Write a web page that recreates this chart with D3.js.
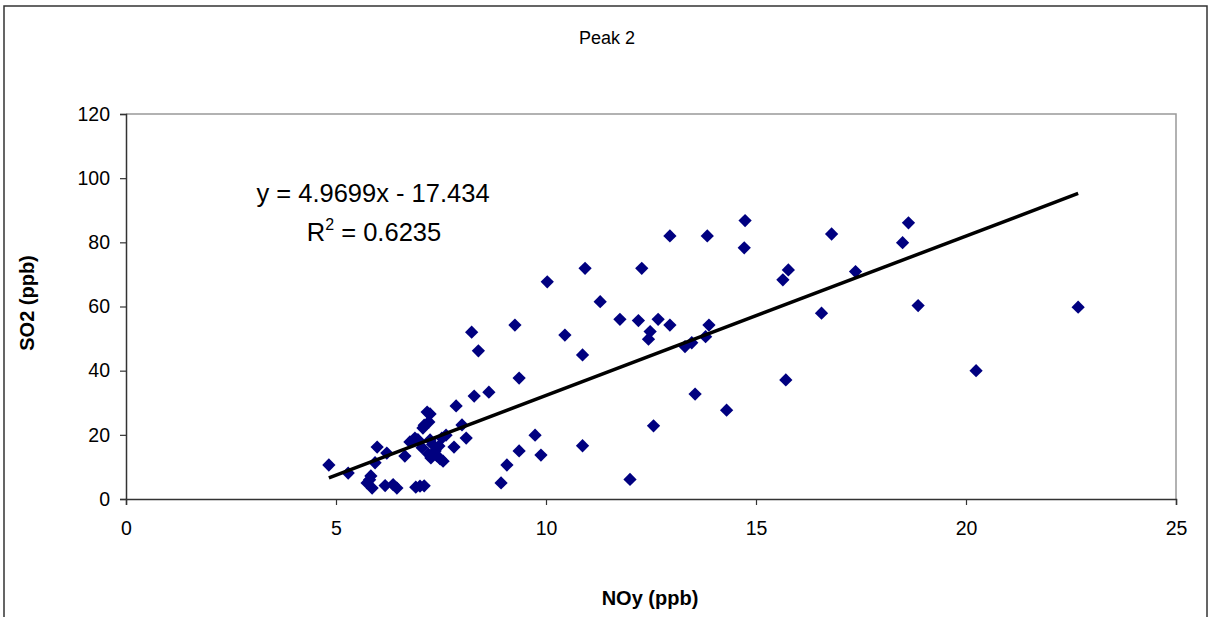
<!DOCTYPE html>
<html><head><meta charset="utf-8">
<script src="https://cdn.jsdelivr.net/npm/d3@7"></script>
<style>
html,body{margin:0;padding:0;background:#fff;}
svg{display:block;font-family:Arial,"Liberation Sans",sans-serif;}
</style></head>
<body><svg id="c" width="1210" height="617"></svg>
<script>
const noy = [4.83,5.29,5.83,5.74,5.86,5.80,5.98,6.21,5.93,6.17,6.36,6.45,6.64,6.76,6.88,6.90,7.10,7.00,7.07,7.17,7.24,7.21,7.10,6.95,7.05,7.24,7.26,7.20,7.36,7.40,7.48,7.55,7.45,7.30,7.62,7.52,7.81,7.86,8.00,8.10,8.29,8.64,8.23,8.39,9.36,8.93,9.07,9.36,9.74,9.88,9.26,10.03,10.93,10.45,11.29,10.87,11.76,12.20,12.28,12.67,12.95,12.48,12.44,12.95,13.84,14.74,14.72,13.31,13.47,13.80,13.88,15.64,15.77,15.71,13.55,14.30,12.56,10.87,12.00,16.80,18.63,18.49,17.37,16.56,18.86,22.67,20.24];
const so2 = [10.6,8.1,7.2,5.0,3.4,6.0,16.2,14.3,11.3,4.2,4.5,3.4,13.4,17.8,19.0,3.7,4.1,4.0,22.1,27.1,26.5,24.0,23.0,18.5,16.0,18.4,12.8,14.0,15.0,13.5,12.5,11.8,16.5,17.0,19.9,19.0,16.2,29.0,23.1,19.0,32.1,33.3,52.0,46.2,37.7,5.0,10.6,15.0,19.9,13.7,54.2,67.7,71.9,51.1,61.5,44.9,56.0,55.6,71.9,56.0,54.2,52.2,49.8,82.0,82.0,86.8,78.3,47.5,48.7,50.6,54.2,68.3,71.4,37.1,32.7,27.7,22.8,16.6,6.1,82.6,86.1,79.9,70.9,57.9,60.3,59.8,40.0];
const xTicks = [0,5,10,15,20,25];
const yTicks = [0,20,40,60,80,100,120];
const slope = 4.9699, intercept = -17.434;
const title = "Peak 2";
const xTitle = "NOy (ppb)";
const yTitle = "SO2 (ppb)";
const eqText = "y = 4.9699x - 17.434";
const r2Value = "0.6235";

const svg = d3.select("#c");
const L = 126, R = 1176, T = 114, B = 499;
const x = d3.scaleLinear().domain([0,25]).range([L,R]);
const y = d3.scaleLinear().domain([0,120]).range([B,T]);

svg.append("rect").attr("x",4).attr("y",6).attr("width",1203).attr("height",612)
  .attr("fill","none").attr("stroke","#333").attr("stroke-width",1.5);

svg.append("path").attr("d",`M${L},${T}H${R}V${B}`).attr("fill","none")
  .attr("stroke","#999").attr("stroke-width",1.5);

const xAxis = svg.append("g").attr("transform",`translate(0,${B})`)
  .call(d3.axisBottom(x).tickValues(xTicks).tickSize(6).tickPadding(16).tickFormat(d3.format("d")));
const yAxis = svg.append("g").attr("transform",`translate(${L},0)`)
  .call(d3.axisLeft(y).tickValues(yTicks).tickSize(6).tickPadding(10).tickFormat(d3.format("d")));
[xAxis,yAxis].forEach(g=>{
  g.select(".domain").attr("stroke","#333").attr("stroke-width",1.5);
  g.selectAll(".tick line").attr("stroke","#333").attr("stroke-width",1.2);
  g.selectAll("text").attr("font-size",19.5).attr("fill","#000").attr("font-family","Arial,'Liberation Sans',sans-serif");
});

const sym = d3.symbol().type(d3.symbolSquare).size(88);
svg.append("g").selectAll("path").data(noy.map((v,i)=>[v,so2[i]])).join("path")
  .attr("d",sym)
  .attr("transform",d=>`translate(${x(d[0])},${y(d[1])}) rotate(45)`)
  .attr("fill","#000080");

const x0 = d3.min(noy), x1 = d3.max(noy);
svg.append("line")
  .attr("x1",x(x0)).attr("y1",y(slope*x0+intercept))
  .attr("x2",x(x1)).attr("y2",y(slope*x1+intercept))
  .attr("stroke","#000").attr("stroke-width",3.5);

svg.append("text").attr("x",607).attr("y",44).attr("text-anchor","middle")
  .attr("font-size",18).text(title);
svg.append("text").attr("x",650).attr("y",605).attr("text-anchor","middle")
  .attr("font-size",20).attr("font-weight","bold").text(xTitle);
svg.append("text").attr("transform","translate(34,303) rotate(-90)").attr("text-anchor","middle")
  .attr("font-size",20).attr("font-weight","bold").text(yTitle);

svg.append("text").attr("x",373).attr("y",202).attr("text-anchor","middle")
  .attr("font-size",25.5).text(eqText);
const r2 = svg.append("text").attr("x",374).attr("y",241).attr("text-anchor","middle").attr("font-size",25.5);
r2.append("tspan").text("R");
r2.append("tspan").attr("dy",-11).attr("font-size",16).text("2");
r2.append("tspan").attr("dy",11).text(" = " + r2Value);
</script></body></html>
